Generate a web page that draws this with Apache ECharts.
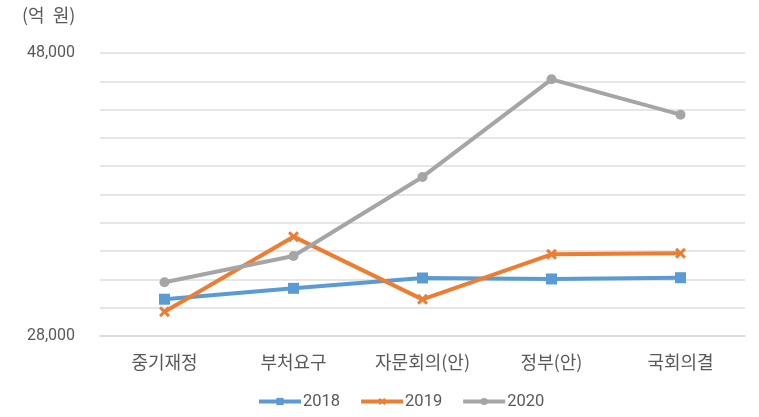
<!DOCTYPE html>
<html>
<head>
<meta charset="utf-8">
<script src="https://cdn.jsdelivr.net/npm/echarts@6/dist/echarts.min.js"></script>
<style>
html,body{margin:0;padding:0;background:#fff;}
#c{width:759px;height:417px;}
</style>
</head>
<body>
<div id="c"></div>
<script>
const categories = ['중기재정', '부처요구', '자문회의(안)', '정부(안)', '국회의결'];
const s2018 = [30600, 31370, 32100, 32030, 32120];
const s2019 = [29720, 35020, 30590, 33770, 33840];
const s2020 = [31800, 33650, 39240, 46140, 43640];
const seriesNames = ['2018', '2019', '2020'];
const yMin = 28000, yMax = 48000, yStep = 2000;
const unitLabel = '(억  원)';

const FONT = '"Noto Sans CJK KR", "Noto Sans", sans-serif';
const NUMFONT = 'Roboto, "Noto Sans", sans-serif';
const chart = echarts.init(document.getElementById('c'));
const xPath = 'path://M2,0L5,3L8,0L10,2L7,5L10,8L8,10L5,7L2,10L0,8L3,5L0,2Z';

chart.setOption({
  animation: false,
  backgroundColor: '#fff',
  textStyle: { fontFamily: FONT },
  grid: { left: 100, right: 14, top: 53, bottom: 81, containLabel: false },
  graphic: [{
    type: 'text', left: 22, top: 6,
    style: { text: unitLabel, font: '18px ' + FONT, fill: '#595959' }
  }],
  xAxis: {
    type: 'category', data: categories, boundaryGap: true,
    axisLine: { show: true, lineStyle: { color: '#d9d9d9', width: 1.5 } },
    axisTick: { show: false },
    axisLabel: { color: '#595959', fontSize: 18, margin: 17, fontFamily: FONT }
  },
  yAxis: {
    type: 'value', min: yMin, max: yMax, interval: yStep,
    axisLine: { show: false }, axisTick: { show: false },
    splitLine: { lineStyle: { color: '#dedede', width: 1.5 } },
    axisLabel: {
      color: '#595959', fontSize: 16, margin: 25, fontFamily: NUMFONT,
      formatter: v => (v === yMin || v === yMax) ? v.toLocaleString('en-US') : ''
    }
  },
  legend: {
    bottom: 7, left: 257, padding: 0, itemWidth: 42, itemHeight: 9, itemGap: 19,
    lineStyle: { width: 4 },
    textStyle: { color: '#595959', fontSize: 16.5, fontFamily: NUMFONT, padding: [0,0,0,-3] },
    data: seriesNames
  },
  series: [
    { name: seriesNames[0], type: 'line', data: s2018, symbol: 'rect', symbolSize: 11,
      color: '#5B9BD5', lineStyle: { width: 4 } },
    { name: seriesNames[1], type: 'line', data: s2019, symbol: xPath, symbolSize: 11,
      color: '#ED7D31', lineStyle: { width: 4 } },
    { name: seriesNames[2], type: 'line', data: s2020, symbol: 'circle', symbolSize: 10,
      color: '#A5A5A5', lineStyle: { width: 4 } }
  ]
});
</script>
</body>
</html>
